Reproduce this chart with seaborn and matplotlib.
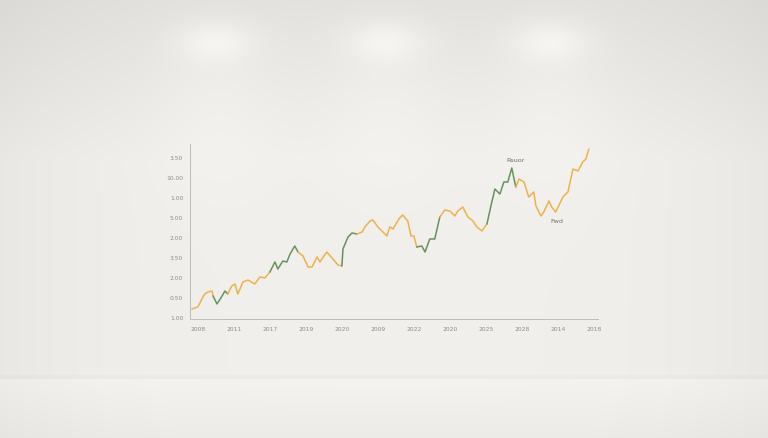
import numpy as np
import pandas as pd
import matplotlib.pyplot as plt
import seaborn as sns

sns.set_theme(style="white")
plt.rcParams["font.family"] = ["DejaVu Sans"]

# tick labels as they appear on the picture
x_labels = ["2008", "2011", "2017", "2019", "2020", "2009",
            "2022", "2020", "2025", "2028", "2014", "2018"]
y_labels = ["1.00", "0.50", "2.00", "3.50", "2.00", "5.00", "1.00", "10.00", "3.50"]

# series, x in tick units, y in axis units
xs = [-0.17, 0.0, 0.11, 0.19, 0.28, 0.39, 0.42, 0.53, 0.67, 0.75, 0.83, 0.94,
      1.03, 1.11, 1.25, 1.39, 1.58, 1.72, 1.86, 2.0, 2.14, 2.22, 2.36, 2.47,
      2.56, 2.69, 2.78, 2.92, 3.06, 3.17, 3.31, 3.39, 3.58, 3.75, 3.89, 4.0,
      4.03, 4.17, 4.28, 4.42, 4.56, 4.64, 4.78, 4.86, 5.0, 5.14, 5.25, 5.33,
      5.42, 5.58, 5.69, 5.83, 5.92, 6.0, 6.08, 6.22, 6.31, 6.44, 6.58, 6.72,
      6.86, 7.0, 7.14, 7.22, 7.36, 7.5, 7.64, 7.75, 7.89, 8.03, 8.14, 8.25,
      8.39, 8.5, 8.61, 8.72, 8.83, 8.92, 9.06, 9.19, 9.33, 9.39, 9.53, 9.61,
      9.75, 9.83, 9.94, 10.14, 10.28, 10.42, 10.56, 10.69, 10.78, 10.86]
ys = [0.4, 0.5, 0.9, 1.15, 1.25, 1.3, 1.05, 0.65, 1.05, 1.3, 1.15, 1.55,
      1.65, 1.15, 1.75, 1.85, 1.65, 2.0, 1.95, 2.25, 2.75, 2.4, 2.8, 2.75,
      3.15, 3.55, 3.25, 3.05, 2.5, 2.5, 3.0, 2.75, 3.25, 2.9, 2.6, 2.55,
      3.4, 4.0, 4.2, 4.15, 4.25, 4.5, 4.8, 4.85, 4.5, 4.25, 4.05, 4.5,
      4.4, 4.9, 5.1, 4.8, 4.05, 4.05, 3.5, 3.55, 3.25, 3.9, 3.9, 5.0,
      5.35, 5.3, 5.05, 5.3, 5.5, 5.0, 4.8, 4.5, 4.3, 4.65, 5.55, 6.4,
      6.15, 6.75, 6.75, 7.45, 6.5, 6.9, 6.75, 6.0, 6.25, 5.55, 5.05, 5.25,
      5.8, 5.5, 5.25, 6.0, 6.25, 7.4, 7.3, 7.75, 7.9, 8.4]
# trend per step between points: "up" steps are drawn green
trend = ["flat"] * (len(xs) - 1)
for i in list(range(6, 10)) + list(range(19, 26)) + list(range(35, 39)) \
        + list(range(54, 59)) + list(range(69, 76)):
    trend[i] = "up"

colors = {"flat": "#eeb24c", "up": "#66925c"}

fig = plt.figure(figsize=(7.68, 4.39), dpi=100)

# wall and floor backdrop
bg = fig.add_axes([0, 0, 1, 1])
h, w = 439, 768
yy, xx = np.mgrid[0:h, 0:w]
wall = 0.885 + 0.055 * np.clip(yy / 160.0, 0, 1)
for cx in (215, 385, 550):
    wall += 0.05 * np.exp(-(((xx - cx) / 38.0) ** 2 + ((yy - 42) / 20.0) ** 2))
    wall += 0.02 * np.exp(-(((xx - cx) / 65.0) ** 2 + ((yy - 100) / 85.0) ** 2))
wall -= 0.03 * ((xx - w / 2) / (w / 2)) ** 4
floor = yy >= 380
wall[floor] = 0.955 - 0.03 * ((yy[floor] - 380) / 59.0) - 0.025 * ((xx[floor] - w / 2) / (w / 2)) ** 4
wall[(yy >= 376) & (yy < 380)] -= 0.015
rgb = np.dstack([wall * 1.006, wall * 0.998, wall * 0.982]).clip(0, 1)
bg.imshow(rgb, aspect="auto", extent=[0, w, h, 0])
bg.axis("off")

ax = fig.add_axes([0.2474, 0.2711, 0.531, 0.3986])
ax.set_facecolor("none")

df = pd.DataFrame({"x": xs, "y": ys})
run_start = 0
for i in range(1, len(trend) + 1):
    if i == len(trend) or trend[i] != trend[run_start]:
        seg = df.iloc[run_start:i + 1]
        sns.lineplot(data=seg, x="x", y="y", ax=ax, color=colors[trend[run_start]],
                     linewidth=1.1, sort=False, estimator=None)
        run_start = i

ax.set_xlim(-0.22, 11.11)
ax.set_ylim(-0.1, 8.65)
ax.set_xticks(range(len(x_labels)))
ax.set_xticklabels(x_labels)
ax.set_yticks(range(len(y_labels)))
ax.set_yticklabels(y_labels)
ax.tick_params(axis="both", labelsize=4.3, colors="#8d8c88", length=2, width=0.5, pad=3)
ax.set_xlabel("")
ax.set_ylabel("")
for side in ("top", "right"):
    ax.spines[side].set_visible(False)
for side in ("left", "bottom"):
    ax.spines[side].set_color("#bdbcb7")
    ax.spines[side].set_linewidth(0.7)

ax.text(8.83, 7.75, "Rsuor", fontsize=4.6, color="#6d6d69", ha="center", va="bottom")
ax.text(9.97, 4.95, "Fwd", fontsize=4.6, color="#6d6d69", ha="center", va="top")

fig.savefig("out.png", dpi=100)
